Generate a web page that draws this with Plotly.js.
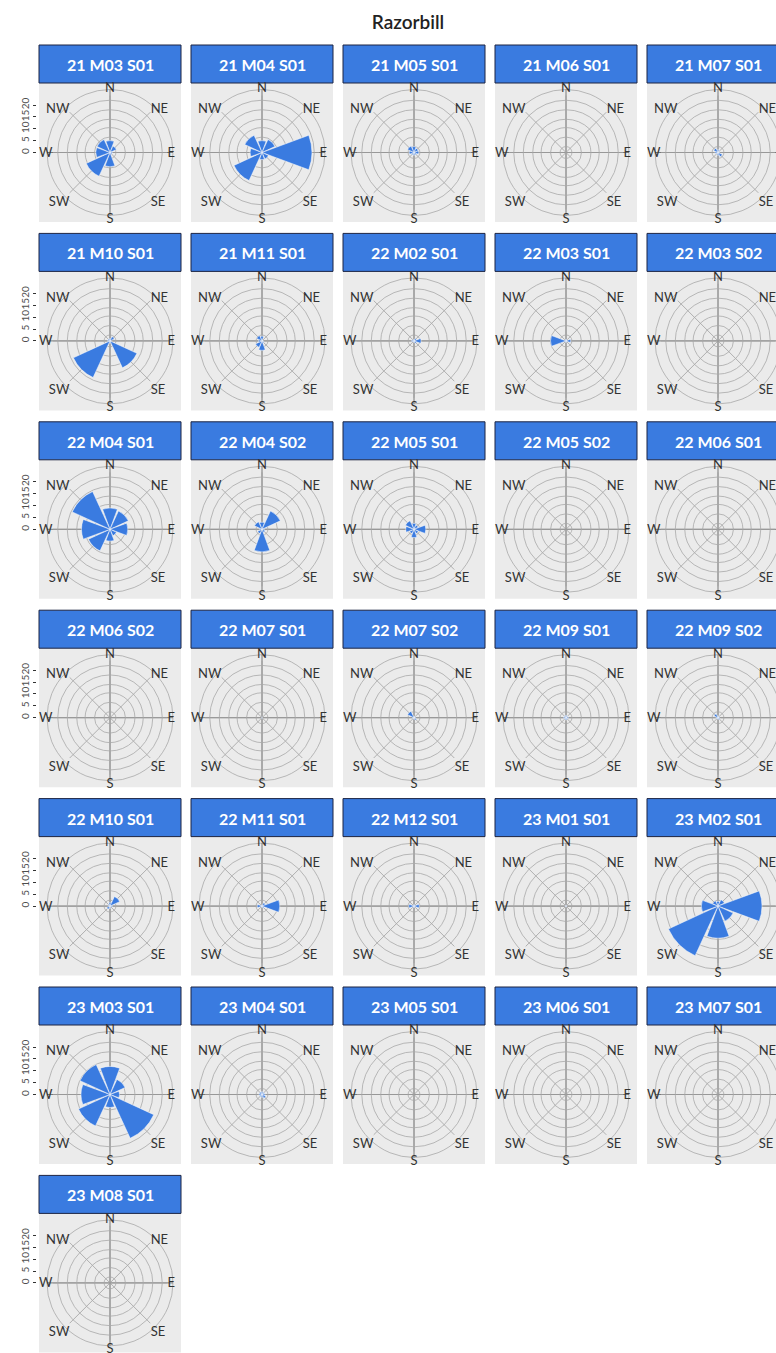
<!DOCTYPE html>
<html>
<head>
<meta charset="utf-8">
<script src="https://cdn.plot.ly/plotly-3.0.1.min.js"></script>
<style>html,body{margin:0;padding:0;background:#fff;}#chart{width:776px;height:1353px;}</style>
</head>
<body>
<div id="chart"></div>
<script>
// ---- data ----
const chartTitle = 'Razorbill';
const dirLabels = ['N', 'NE', 'E', 'SE', 'S', 'SW', 'W', 'NW'];
const dirAngles = [0, 45, 90, 135, 180, 225, 270, 315];
const radialTicks = [0, 5, 10, 15, 20];
const panelLabels = [
  '21 M03 S01', '21 M04 S01', '21 M05 S01', '21 M06 S01', '21 M07 S01',
  '21 M10 S01', '21 M11 S01', '22 M02 S01', '22 M03 S01', '22 M03 S02',
  '22 M04 S01', '22 M04 S02', '22 M05 S01', '22 M05 S02', '22 M06 S01',
  '22 M06 S02', '22 M07 S01', '22 M07 S02', '22 M09 S01', '22 M09 S02',
  '22 M10 S01', '22 M11 S01', '22 M12 S01', '23 M01 S01', '23 M02 S01',
  '23 M03 S01', '23 M04 S01', '23 M05 S01', '23 M06 S01', '23 M07 S01',
  '23 M08 S01'
];
// values per direction: N, NE, E, SE, S, SW, W, NW
const y21m03s01 = [5, 3, 1, 1, 6, 11, 6, 6];
const y21m04s01 = [5, 6, 21, 3, 3, 13, 5, 8];
const y21m05s01 = [2.5, 2, 2, 1.2, 1.2, 1.2, 2, 3];
const y21m06s01 = [0, 0, 0, 0, 0, 0, 0, 0];
const y21m07s01 = [1.2, 0.6, 0.6, 2, 1.2, 0.6, 1.2, 2];
const y21m10s01 = [1, 2, 0.5, 12.5, 1, 17, 1, 1];
const y21m11s01 = [2, 0.5, 0.5, 1, 4, 3, 1.5, 2.5];
const y22m02s01 = [0.6, 1.2, 3, 1.2, 0.6, 0.6, 1, 0.6];
const y22m03s01 = [0.6, 0.6, 2, 0.6, 0.6, 0.6, 6.5, 0.6];
const y22m03s02 = [0, 0, 0, 0, 0, 0, 0, 0];
const y22m04s01 = [9, 8.5, 7.5, 3, 5, 10, 12, 17.5];
const y22m04s02 = [3, 8.5, 1, 1.5, 9.5, 2, 1, 3.5];
const y22m05s01 = [2.5, 2, 5, 2, 3.5, 2, 3.5, 4];
const y22m05s02 = [0, 0, 0, 0, 0, 0, 0, 0];
const y22m06s01 = [0, 0, 0, 0, 0, 0, 0, 0];
const y22m06s02 = [0, 0, 0, 0, 0, 0, 0, 0];
const y22m07s01 = [0.4, 0, 0, 0, 0.4, 0, 0, 0];
const y22m07s02 = [0.6, 0.6, 0.6, 1.2, 0.6, 0.6, 0.6, 3];
const y22m09s01 = [1, 0.8, 1, 0.8, 1, 0.8, 1, 0.8];
const y22m09s02 = [0.8, 0.6, 0.6, 1, 0.6, 0.6, 0.8, 1.8];
const y22m10s01 = [1.5, 4.5, 1, 0.5, 1, 1.5, 0.5, 1];
const y22m11s01 = [0.5, 1.5, 7.5, 1, 0.5, 0.5, 2, 0.5];
const y22m12s01 = [0.6, 0.6, 2.2, 0.6, 0.6, 0.6, 2.2, 0.6];
const y23m01s01 = [0.4, 0, 0.4, 0, 0.4, 0, 0.4, 0];
const y23m02s01 = [2, 3, 18.5, 7, 13.5, 23, 7, 2.5];
const y23m03s01 = [11.8, 7, 4, 20.3, 5.5, 14.6, 12.2, 13.9];
const y23m04s01 = [1.2, 1, 1.2, 1.8, 1.2, 1, 1.2, 1.2];
const y23m05s01 = [0, 0, 0, 0, 0, 0, 0, 0];
const y23m06s01 = [0, 0, 0, 0, 0, 0, 0, 0];
const y23m07s01 = [0, 0, 0, 0, 0, 0, 0, 0];
const y23m08s01 = [0, 0, 0, 0, 0, 0, 0, 0];

const panelValues = [
  y21m03s01, y21m04s01, y21m05s01, y21m06s01, y21m07s01,
  y21m10s01, y21m11s01, y22m02s01, y22m03s01, y22m03s02,
  y22m04s01, y22m04s02, y22m05s01, y22m05s02, y22m06s01,
  y22m06s02, y22m07s01, y22m07s02, y22m09s01, y22m09s02,
  y22m10s01, y22m11s01, y22m12s01, y23m01s01, y23m02s01,
  y23m03s01, y23m04s01, y23m05s01, y23m06s01, y23m07s01,
  y23m08s01
];

// ---- layout geometry (pixels) ----
const W = 776, H = 1353;
const NCOL = 5;
const COL0 = 39, COLP = 152, PW = 142;
const ROW0 = 45, ROWP = 188.4, STRIPH = 38, PH = 139;
const FR = 57;        // polar frame radius (px)
const OUTR = 63;      // outer label circle (px)
const RMAX = 24;
const FONT = 'Lato, "Open Sans", sans-serif';
const BLUE = '#3a7be0';

const px = v => v / W;
const py = v => 1 - v / H;

const data = [];
const layout = {
  width: W, height: H,
  margin: {l: 0, r: 0, t: 0, b: 0},
  paper_bgcolor: '#ffffff',
  plot_bgcolor: 'rgba(0,0,0,0)',
  showlegend: false,
  font: {family: FONT, color: '#333'},
  title: {text: chartTitle, x: 408 / W, xanchor: 'center', xref: 'paper',
          y: 1 - 22 / H, yanchor: 'middle', yref: 'container',
          font: {family: FONT, size: 19, color: '#222', weight: 600}},
  shapes: [],
  annotations: []
};

panelLabels.forEach((lab, i) => {
  const c = i % NCOL, r = Math.floor(i / NCOL);
  const left = COL0 + COLP * c;
  const top = ROW0 + ROWP * r;
  const cx = left + PW / 2;
  const cy = top + STRIPH + PH / 2;
  const pid = i === 0 ? 'polar' : 'polar' + (i + 1);
  // the last column is cut by the page edge: its E label falls outside
  const tickText = dirLabels.map(d => (c === NCOL - 1 && d === 'E') ? '' : d);

  layout.shapes.push({type: 'rect', xref: 'paper', yref: 'paper', layer: 'below',
    x0: px(left), x1: px(left + PW), y0: py(top + STRIPH + PH), y1: py(top + STRIPH),
    fillcolor: '#ebebeb', line: {width: 0}});
  layout.shapes.push({type: 'circle', xref: 'paper', yref: 'paper', layer: 'below',
    x0: px(cx - OUTR), x1: px(cx + OUTR), y0: py(cy + OUTR), y1: py(cy - OUTR),
    fillcolor: 'rgba(0,0,0,0)', line: {color: '#a8a8a8', width: 0.8}});
  layout.shapes.push({type: 'line', xref: 'paper', yref: 'paper', layer: 'below',
    x0: px(cx), x1: px(cx), y0: py(cy - OUTR), y1: py(cy + OUTR),
    line: {color: '#5c5c5c', width: 0.8}});
  layout.shapes.push({type: 'line', xref: 'paper', yref: 'paper', layer: 'below',
    x0: px(cx - OUTR), x1: px(cx + OUTR), y0: py(cy), y1: py(cy),
    line: {color: '#5c5c5c', width: 0.8}});
  layout.shapes.push({type: 'rect', xref: 'paper', yref: 'paper', layer: 'below',
    x0: px(left), x1: px(left + PW), y0: py(top + STRIPH), y1: py(top),
    fillcolor: BLUE, line: {color: '#1c2442', width: 1}});
  layout.annotations.push({xref: 'paper', yref: 'paper', x: px(cx), y: py(top + STRIPH / 2 + 0.5),
    xanchor: 'center', yanchor: 'middle', showarrow: false, text: lab,
    font: {family: FONT, size: 16, color: '#ffffff', weight: 700}});

  layout[pid] = {
    domain: {x: [px(cx - FR), px(cx + FR)], y: [py(cy + FR), py(cy - FR)]},
    bgcolor: 'rgba(0,0,0,0)',
    angularaxis: {
      rotation: 90, direction: 'clockwise',
      tickmode: 'array', tickvals: dirAngles, ticktext: tickText,
      ticks: '', showline: false, showgrid: true,
      gridcolor: '#a0a0a0', gridwidth: 0.8,
      tickfont: {family: FONT, size: 13, color: '#333'}
    },
    radialaxis: {
      range: [0, RMAX], tickmode: 'array', tickvals: [2.5, 6.5, 10.5, 14, 18, 22],
      showticklabels: false, ticks: '', showline: false,
      gridcolor: '#a8a8a8', gridwidth: 0.8
    }
  };

  data.push({
    type: 'barpolar', subplot: pid,
    r: panelValues[i], theta: dirAngles, width: 40.5,
    marker: {color: BLUE, line: {color: '#ffffff', width: 0.5}},
    hoverinfo: 'skip'
  });

  if (c === 0) {
    const k = r + 1;
    const xa = k === 1 ? 'xaxis' : 'xaxis' + k;
    const ya = k === 1 ? 'yaxis' : 'yaxis' + k;
    const xs = k === 1 ? 'x' : 'x' + k;
    const ys = k === 1 ? 'y' : 'y' + k;
    layout[xa] = {domain: [px(37), px(38)], visible: false, anchor: ys, range: [0, 1], fixedrange: true};
    layout[ya] = {domain: [py(cy + FR), py(cy - FR)], anchor: xs, range: [-RMAX, RMAX],
      tickmode: 'array', tickvals: radialTicks, ticktext: radialTicks.map(String),
      ticks: 'outside', ticklen: 3, tickwidth: 1, tickcolor: '#333', tickangle: -90,
      tickfont: {family: FONT, size: 10, color: '#4d4d4d'},
      showgrid: false, zeroline: false, showline: false, fixedrange: true};
    data.push({type: 'scatter', x: [], y: [], xaxis: xs, yaxis: ys, showlegend: false, hoverinfo: 'skip'});
  }
});

Plotly.newPlot('chart', data, layout, {staticPlot: true, displayModeBar: false});
</script>
</body>
</html>
